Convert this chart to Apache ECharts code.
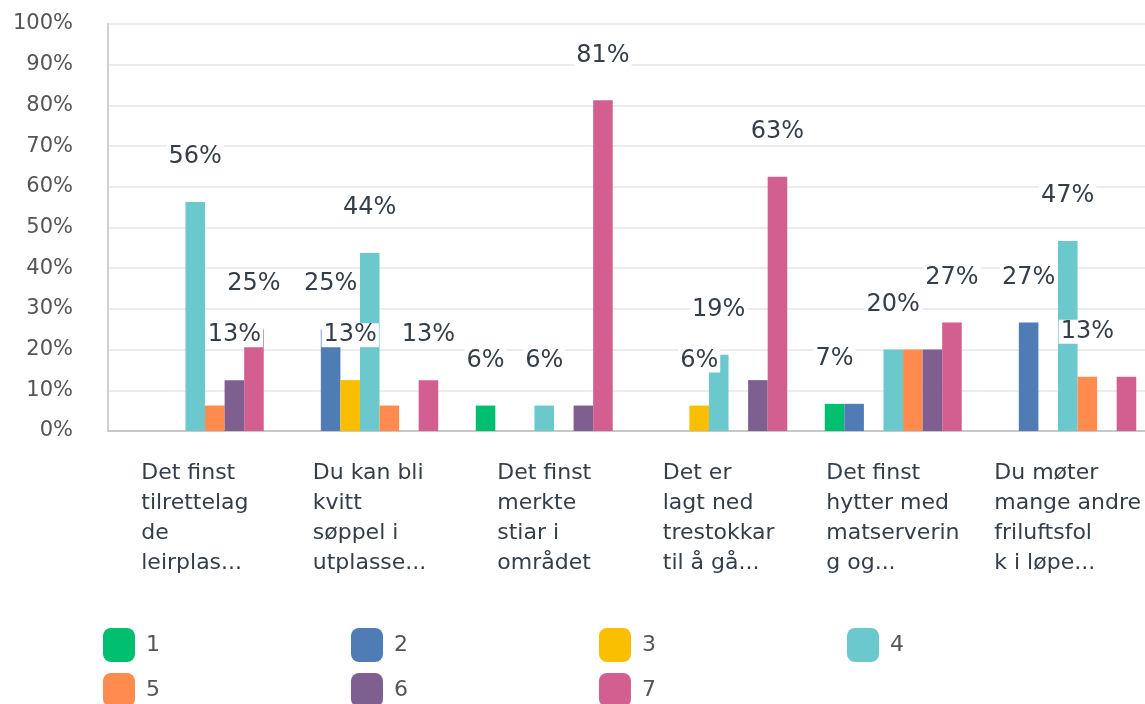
<!DOCTYPE html>
<html>
<head>
<meta charset="utf-8">
<script src="https://cdn.jsdelivr.net/npm/echarts@6/dist/echarts.min.js"></script>
<style>
  html, body { margin: 0; padding: 0; background: #fff; overflow: hidden; }
  #chart { width: 1160px; height: 704px; }
</style>
</head>
<body>
<div id="chart"></div>
<script>
// ---- data ----
const categories = [
  "Det finst\ntilrettelag\nde\nleirplas...",
  "Du kan bli\nkvitt\nsøppel i\nutplasse...",
  "Det finst\nmerkte\nstiar i\nområdet",
  "Det er\nlagt ned\ntrestokkar\ntil å gå...",
  "Det finst\nhytter med\nmatserverin\ng og...",
  "Du møter\nmange andre\nfriluftsfol\nk i løpe..."
];
const seriesNames = ["1", "2", "3", "4", "5", "6", "7"];
const s1 = [0, 0, 6.25, 0, 6.67, 0];
const s2 = [0, 25, 0, 0, 6.67, 26.67];
const s3 = [0, 12.5, 0, 6.25, 0, 0];
const s4 = [56.25, 43.75, 6.25, 18.75, 20, 46.67];
const s5 = [6.25, 6.25, 0, 0, 20, 13.33];
const s6 = [12.5, 0, 6.25, 12.5, 20, 0];
const s7 = [25, 12.5, 81.25, 62.5, 26.67, 13.33];
const seriesValues = [s1, s2, s3, s4, s5, s6, s7];
// which value labels are visible in the original
const labels1 = [false, false, true, false, true, false];
const labels2 = [false, true, false, false, false, true];
const labels3 = [false, true, false, true, false, false];
const labels4 = [true, true, true, true, true, true];
const labels5 = [false, false, false, false, false, true];
const labels6 = [true, false, false, false, false, false];
const labels7 = [true, true, true, true, true, false];
const labelShown = [labels1, labels2, labels3, labels4, labels5, labels6, labels7];
const yTicks = [0, 10, 20, 30, 40, 50, 60, 70, 80, 90, 100];

// ---- style ----
const colors = ["#00bf6f", "#507cb6", "#f9be00", "#6bc8cd", "#ff8b4f", "#7f5f90", "#d25f90"];
const FONT = "'DejaVu Sans', 'Noto Sans', sans-serif";
const XFS = 22;

// measure category label block widths so lines are left-aligned inside a centered block
const ctx = document.createElement('canvas').getContext('2d');
ctx.font = XFS + "px " + FONT;
const rich = {};
categories.forEach((c, i) => {
  const w = Math.max(...c.split('\n').map(l => ctx.measureText(l).width));
  rich['c' + i] = { width: Math.ceil(w), align: 'left', fontSize: XFS, lineHeight: 30, color: '#333e48', fontFamily: FONT };
});

const chart = echarts.init(document.getElementById('chart'), null, { renderer: 'canvas' });

const series = seriesNames.map((name, si) => ({
  name: name,
  type: 'bar',
  barGap: '0%',
  barCategoryGap: '21.5%',
  itemStyle: { color: colors[si] },
  label: {
    position: 'top',
    distance: 33,
    fontSize: 24,
    fontFamily: FONT,
    color: '#333e48',
    backgroundColor: '#fff',
    padding: [0, 2],
    formatter: p => Math.round(p.value) + '%'
  },
  data: seriesValues[si].map((v, ci) => ({ value: v, label: { show: labelShown[si][ci] } }))
}));

const legendText = { fontSize: 22, color: '#555', fontFamily: FONT, padding: [0, 0, 0, 6] };
const legendCommon = { left: 103, padding: 0, itemWidth: 32, itemHeight: 34, itemGap: 191, icon: 'roundRect', textStyle: legendText, selectedMode: false };
chart.setOption({
  animation: false,
  color: colors,
  textStyle: { fontFamily: FONT },
  grid: { left: 108, top: 24, width: 1047, height: 407, containLabel: false },
  legend: [
    Object.assign({ data: ["1", "2", "3", "4"], top: 628 }, legendCommon),
    Object.assign({ data: ["5", "6", "7"], top: 673 }, legendCommon)
  ],
  xAxis: {
    type: 'category',
    data: categories,
    axisLine: { lineStyle: { color: '#c8c8c8', width: 2 } },
    axisTick: { show: false },
    axisLabel: {
      interval: 0,
      margin: 27,
      rich: rich,
      formatter: (val, idx) => val.split('\n').map(l => '{c' + idx + '|' + l + '}').join('\n')
    }
  },
  yAxis: {
    type: 'value',
    min: yTicks[0],
    max: yTicks[yTicks.length - 1],
    interval: yTicks[1] - yTicks[0],
    axisLine: { show: true, lineStyle: { color: '#d0d0d0', width: 2 } },
    axisTick: { show: false },
    splitLine: { lineStyle: { color: '#ececec', width: 2 } },
    axisLabel: { formatter: '{value}%', fontSize: 21, color: '#555', margin: 35, fontFamily: FONT }
  },
  series: series
});
</script>
</body>
</html>
